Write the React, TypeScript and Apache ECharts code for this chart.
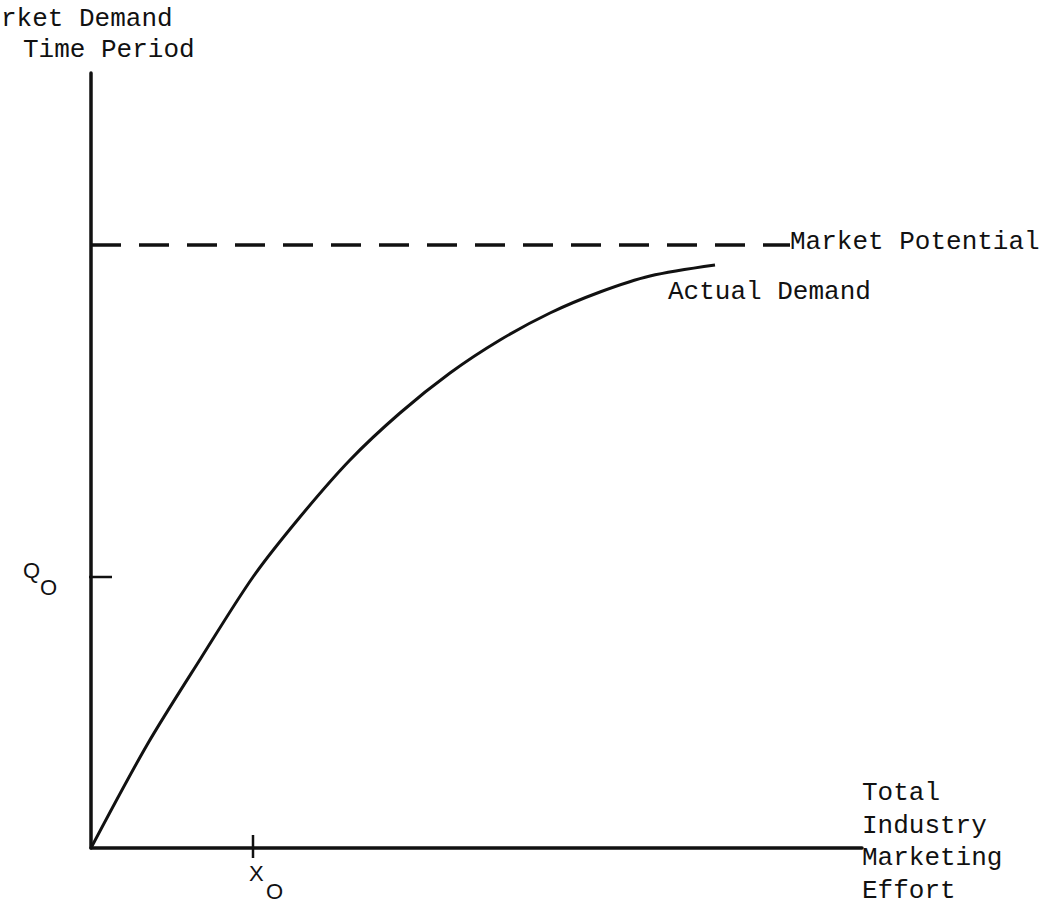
import React, { useEffect, useRef } from "react";
import * as echarts from "echarts";

// Axis extents (in plot units, one unit ≈ one pixel of the original drawing)
const X_MAX = 771;
const Y_MAX = 775;

// Actual demand curve [effort, demand]
const demandCurve: number[][] = [
  [0, 0], [56, 103], [110, 190], [162, 271], [209, 331], [259, 388], [309, 435],
  [359, 475], [409, 508], [459, 535], [509, 556], [559, 572], [624, 583],
];

// Market potential level and its drawn extent
const potentialLevel = 603;
const potentialExtent = [0, 699];

// Marked tick values
const xTickValue = 162; // X0
const yTickValue = 271; // Q0
const xTickSpan = [13, -10];
const yTickSpan = [-11, 21];

const yTitleLines = ["rket Demand", "Time Period"];
const xTitleLines = ["Total", "Industry", "Marketing", "Effort"];
const potentialLabel = "Market Potential";
const demandLabel = "Actual Demand";

const MONO = "'Liberation Mono', 'DejaVu Sans Mono', monospace";
const SANS = "'Liberation Sans', 'DejaVu Sans', sans-serif";
const INK = "#111";

export default function App() {
  const ref = useRef<HTMLDivElement>(null);
  useEffect(() => {
    if (!ref.current) return;
    const chart = echarts.init(ref.current, null, { renderer: "svg" });
    const axisLine = { show: true, lineStyle: { color: INK, width: 3.5 } };
    chart.setOption({
      animation: false,
      backgroundColor: "#fff",
      grid: { left: 91, top: 73, right: 195, bottom: 58 },
      xAxis: {
        type: "value", min: 0, max: X_MAX,
        axisLine, axisTick: { show: false }, axisLabel: { show: false }, splitLine: { show: false },
      },
      yAxis: {
        type: "value", min: 0, max: Y_MAX,
        axisLine, axisTick: { show: false }, axisLabel: { show: false }, splitLine: { show: false },
      },
      series: [
        {
          type: "line", data: demandCurve, smooth: 0.3, symbol: "none", clip: false,
          lineStyle: { color: INK, width: 3 },
        },
        {
          type: "line", data: potentialExtent.map((x) => [x, potentialLevel]), symbol: "none", clip: false,
          lineStyle: { color: INK, width: 3.5, type: [30, 18] },
        },
        {
          type: "line", data: xTickSpan.map((y) => [xTickValue, y]), symbol: "none", clip: false,
          lineStyle: { color: INK, width: 2.5 },
        },
        {
          type: "line", data: yTickSpan.map((x) => [x, yTickValue]), symbol: "none", clip: false,
          lineStyle: { color: INK, width: 2.5 },
        },
      ],
    });

    const px = (v: number[]) => chart.convertToPixel({ gridIndex: 0 }, v) as number[];
    const xt = px([xTickValue, 0]);
    const yt = px([0, yTickValue]);
    const pot = px([potentialExtent[1], potentialLevel]);
    const end = px(demandCurve[demandCurve.length - 1]);
    const axisEnd = px([X_MAX, 0]);

    const txt = (text: string, x: number, y: number, size = 26, family = MONO) => ({
      type: "text", x, y,
      style: { text, fill: INK, font: `${size}px ${family}`, align: "left", verticalAlign: "middle" },
    });

    chart.setOption({
      graphic: [
        txt(yTitleLines[0], 1, 19),
        txt(yTitleLines[1], 23, 50),
        txt(potentialLabel, pot[0], pot[1] - 3),
        txt(demandLabel, end[0] - 47, end[1] + 27),
        ...xTitleLines.map((t, i) => txt(t, axisEnd[0], axisEnd[1] - 55 + i * 32.5)),
        txt("Q", yt[0] - 68, yt[1] - 7, 22, SANS),
        txt("O", yt[0] - 51, yt[1] + 10, 22, SANS),
        txt("X", xt[0] - 4, xt[1] + 25, 22, SANS),
        txt("O", xt[0] + 13, xt[1] + 43, 22, SANS),
      ],
    });

    return () => chart.dispose();
  }, []);
  return (
    <div
      ref={ref}
      style={{ position: "fixed", left: 0, top: 0, width: 1057, height: 906, background: "#fff" }}
    />
  );
}
